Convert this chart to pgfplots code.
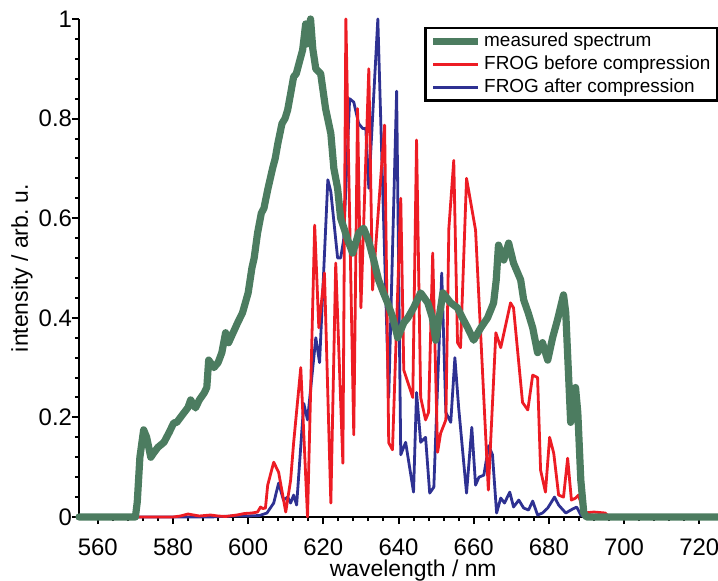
\documentclass[border=0pt]{standalone}
\usepackage{pgfplots}
\pgfplotsset{compat=1.18}
\usepackage{pgfplotstable}
\usepackage{fontspec}
\setmainfont{Liberation Sans}
\definecolor{cgreen}{RGB}{76,124,96}
\definecolor{cred}{RGB}{237,28,36}
\definecolor{cblue}{RGB}{46,49,146}

\pgfplotstableread{
x y
555 0
560 0
565 0
570 0
570.5 0.03
571.2 0.12
572.2 0.175
573 0.16
574.1 0.12
575 0.13
576 0.14
577.6 0.15
579 0.17
580.2 0.189
581 0.19
582 0.2
583 0.21
584 0.22
584.7 0.235
586 0.219
587 0.235
588.3 0.249
589 0.26
589.5 0.315
590.9 0.30
592 0.31
593 0.33
594 0.37
594.8 0.35
596 0.37
597.2 0.39
598.5 0.41
600 0.45
601 0.5
601.6 0.52
602.5 0.57
603.5 0.61
604.2 0.62
605.2 0.657
606.5 0.70
607.2 0.72
607.9 0.75
609 0.79
609.8 0.80
610.5 0.817
611.3 0.85
612.1 0.884
612.8 0.89
613.5 0.91
614.5 0.938
615 0.97
615.3 0.99
615.8 0.95
616.6 1.0
617.2 0.94
618 0.90
619.3 0.89
620.6 0.82
622 0.77
622.8 0.70
623.8 0.66
624.6 0.60
625.5 0.58
626.5 0.556
627.8 0.53
629.4 0.57
630.7 0.58
632 0.556
633.4 0.516
634.7 0.476
636 0.45
637.1 0.43
638.5 0.40
639.8 0.36
641.4 0.39
642.5 0.40
644 0.42
645.9 0.45
647.8 0.43
649 0.40
649.9 0.355
650.8 0.40
651.8 0.45
653.9 0.43
655.7 0.42
657 0.40
658.4 0.38
660 0.355
661.9 0.38
663.7 0.40
665.3 0.43
666 0.476
666.6 0.546
668 0.516
669.3 0.55
670.6 0.51
672.5 0.476
673.3 0.436
674.5 0.41
675.7 0.38
677 0.33
678.3 0.35
679.7 0.315
681 0.36
682.3 0.396
683.9 0.446
684.5 0.41
685.3 0.275
685.8 0.19
687.1 0.26
687.7 0.21
688.5 0.074
689.3 0.008
690 0
700 0
725 0
}\measured

\pgfplotstableread{
x y
555 0
580 0
582 0.002
584 0.006
585.5 0.004
587 0.002
590 0.004
592 0.002
594 0.001
597 0.004
599 0.007
601 0.008
602.5 0.01
603.3 0.02
603.9 0.017
604.6 0.018
605.2 0.064
606.8 0.11
608.1 0.09
610 0.01
611.3 0.074
612.1 0.149
614 0.30
615.8 0
617.7 0.586
618.8 0.38
620.3 0.49
622 0.028
623.3 0.51
625.2 0.108
626 1.0
628.1 0.165
629.1 0.82
630 0.42
632.1 0.90
633.1 0.456
636.3 0.787
637.4 0.149
638.4 0.135
640.6 0.64
641.4 0.295
642.5 0.27
643.8 0.24
644.8 0.757
645.9 0.24
647.2 0.195
648 0.21
649.1 0.53
650.4 0.13
651.2 0.168
652.6 0.195
653.4 0.58
654.7 0.716
655.7 0.35
656.5 0.34
658.1 0.68
660.5 0.576
663.9 0.054
665.9 0.37
667.2 0.34
669.8 0.43
670.6 0.42
673 0.23
674.4 0.215
675.7 0.285
677 0.28
677.8 0.094
679.1 0.05
680.2 0.16
681.3 0.128
682.6 0.044
683.9 0.04
685 0.118
686 0.034
687.1 0.038
687.9 0.044
689.3 0.008
692 0.01
695 0.008
696 0
725 0
}\before

\pgfplotstableread{
x y
555 0
590 0
596 0.002
600 0.002
603 0.003
605 0.008
606.8 0.028
608.1 0.068
609.4 0.034
610.5 0.04
611.3 0.028
612.1 0.044
612.9 0.024
614.8 0.228
615.8 0.195
618 0.36
619 0.31
621.2 0.677
622 0.653
623.8 0.52
624.6 0.52
625.4 0.556
627 0.84
628.1 0.833
629.4 0.79
630.5 0.78
631.3 0.78
632.1 0.66
634.5 1.0
637.4 0.24
639.5 0.855
640.6 0.125
641.9 0.15
644 0.05
644.8 0.25
645.9 0.15
647.2 0.16
648.3 0.048
649.4 0.06
651.5 0.49
652.6 0.21
653.9 0.19
655 0.32
656 0.22
658.1 0.048
659.5 0.18
660.5 0.064
661.4 0.08
662.7 0.084
664 0.143
665 0.125
666.1 0.008
667.2 0.038
668.2 0.028
669.6 0.05
670.6 0.02
672 0.034
673.3 0.018
674.6 0.014
675.7 0.032
677 0.004
678.3 0.008
679.7 0.018
681.5 0.04
682.6 0.024
684.5 0.008
686.3 0.016
687.4 0.02
688.5 0.004
689.5 0
725 0
}\after

\begin{document}
\begin{tikzpicture}
\begin{axis}[
  scale only axis, width=319.5bp, height=249bp,
  xmin=555, xmax=725, ymin=0, ymax=1,
  axis lines=left, axis line style={-, line width=1.3bp, black},
  clip=false,
  xtick={560,580,600,620,640,660,680,700,720},
  ytick={0,0.2,0.4,0.6,0.8,1},
  minor x tick num=4, minor y tick num=4,
  tick align=outside,
  major tick length=3.5bp, minor tick length=2bp,
  every tick/.style={black, line width=1bp},
  /pgf/number format/assume math mode=true,
  tick label style={font=\fontsize{12}{14}\selectfont},
  xticklabel style={yshift=-4bp},
  yticklabel style={xshift=3.5bp},
  label style={font=\fontsize{11.5}{13}\selectfont},
  xlabel={wavelength / nm},
  ylabel={intensity / arb.\ u.},
  xlabel style={at={(axis description cs:0.523,0)}, anchor=north, yshift=-18bp},
  ylabel style={at={(axis description cs:-0.0615,0.5)}, anchor=south},
  reverse legend,
  legend cell align=left,
  legend image code/.code={\draw[#1, line cap=butt] (0bp,0bp) -- (22.5bp,0bp);},
  legend style={at={(1,0.984)}, anchor=north east, draw=black, line width=1.2bp,
    font=\fontsize{9.5}{11}\selectfont, inner xsep=2bp, inner ysep=1bp, row sep=0bp,
    nodes={inner sep=1.2bp, text height=7bp, text depth=2bp}},
]
\addplot[cblue, line width=1.4bp, line join=round] table {\after};
\addlegendentry{FROG after compression}
\addplot[cred, line width=1.4bp, line join=round] table {\before};
\addlegendentry{FROG before compression}
\addplot[cgreen, line width=3.6bp, line join=round, line cap=round] table {\measured};
\addlegendentry{measured spectrum}
\coordinate (BL) at (rel axis cs:0,0);
\coordinate (TR) at (rel axis cs:1,1);
\end{axis}
\pgfresetboundingbox
\path[use as bounding box] ([shift={(-39.5bp,-32bp)}]BL) rectangle ([shift={(0bp,9.5bp)}]TR);
\end{tikzpicture}
\end{document}
